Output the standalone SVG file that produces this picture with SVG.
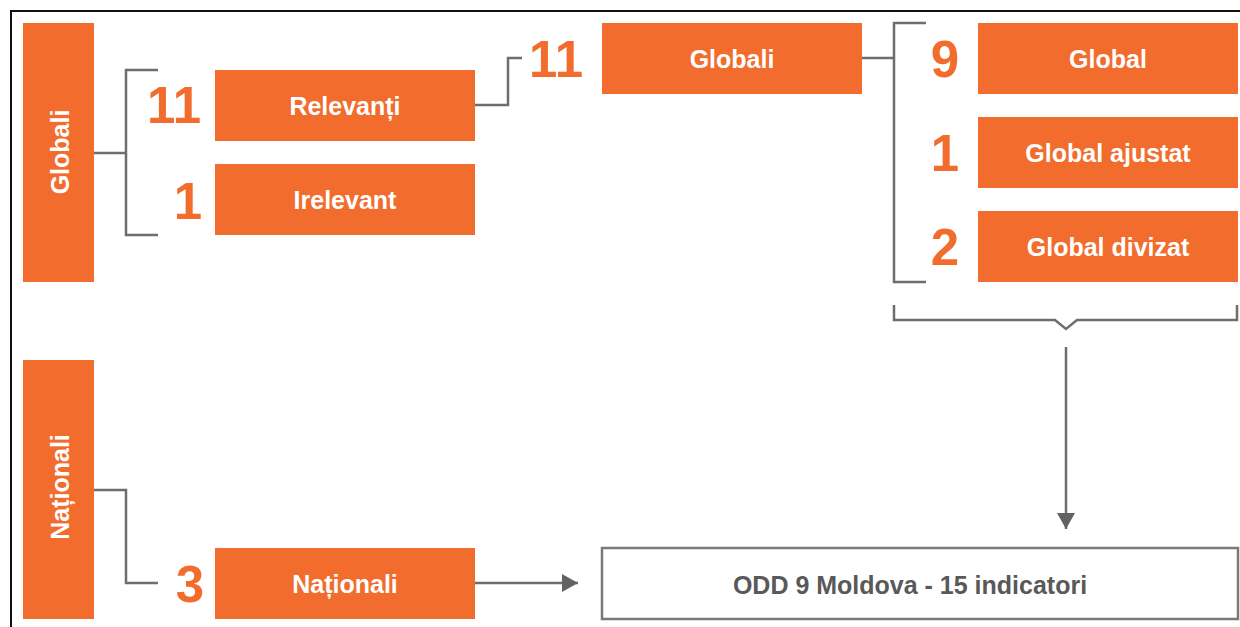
<svg xmlns="http://www.w3.org/2000/svg" width="1240" height="627" viewBox="0 0 1240 627">
<style>
.box{fill:#F26C2D;}
.lbl{font-family:"Liberation Sans",Arial,sans-serif;font-weight:bold;font-size:25px;fill:#FFFFFF;text-anchor:middle;}
.num{font-family:"Liberation Sans",Arial,sans-serif;font-weight:bold;font-size:51px;fill:#F26C2D;text-anchor:end;}
.ln{fill:none;stroke:#6E6E6E;stroke-width:2.5;}
.odd{fill:#FFFFFF;stroke:#7A7A7A;stroke-width:2.5;}
.oddt{font-family:"Liberation Sans",Arial,sans-serif;font-weight:bold;font-size:25px;fill:#595959;text-anchor:middle;}
</style>
<defs>
<marker id="arr" markerUnits="userSpaceOnUse" markerWidth="16" markerHeight="18" refX="16" refY="9" orient="auto">
<path d="M0,0 L16,9 L0,18 Z" fill="#626262"/>
</marker>
</defs>
<rect x="0" y="0" width="1240" height="627" fill="#FFFFFF"/>
<path d="M11,627 V11 H1240" fill="none" stroke="#111" stroke-width="2"/>

<g id="connectors">
<path class="ln" d="M94,153 H126"/>
<path class="ln" d="M158,70 H126 V235 H158"/>
<path class="ln" d="M475,105 H508 V58 H522"/>
<path class="ln" d="M862,58 H894"/>
<path class="ln" d="M926,23 H894 V282 H926"/>
<path class="ln" d="M894,305 V320 H1055 L1066,329 L1077,320 H1237 V305"/>
<path class="ln" d="M1066,347 V529" marker-end="url(#arr)"/>
<path class="ln" d="M94,490 H126 V583 H158"/>
<path class="ln" d="M475,583 H578" marker-end="url(#arr)"/>
</g>

<g id="globali-cat">
<rect class="box" x="23" y="23" width="71" height="259"/>
<text class="lbl" transform="translate(59,152) rotate(-90)" y="10">Globali</text>
</g>
<g id="nationali-cat">
<rect class="box" x="23" y="360" width="71" height="259"/>
<text class="lbl" transform="translate(59,487) rotate(-90)" y="10">Naționali</text>
</g>

<g id="relevanti">
<text class="num" x="201" y="123">11</text>
<rect class="box" x="215" y="70" width="260" height="71"/>
<text class="lbl" x="345" y="115">Relevanți</text>
</g>
<g id="irelevant">
<text class="num" x="202" y="219">1</text>
<rect class="box" x="215" y="164" width="260" height="71"/>
<text class="lbl" x="345" y="209">Irelevant</text>
</g>
<g id="globali-top">
<text class="num" x="583" y="77">11</text>
<rect class="box" x="602" y="23" width="260" height="71"/>
<text class="lbl" x="732" y="68">Globali</text>
</g>
<g id="global">
<text class="num" x="959" y="77">9</text>
<rect class="box" x="978" y="23" width="260" height="71"/>
<text class="lbl" x="1108" y="68">Global</text>
</g>
<g id="global-ajustat">
<text class="num" x="959" y="171">1</text>
<rect class="box" x="978" y="117" width="260" height="71"/>
<text class="lbl" x="1108" y="162">Global ajustat</text>
</g>
<g id="global-divizat">
<text class="num" x="959" y="265">2</text>
<rect class="box" x="978" y="211" width="260" height="71"/>
<text class="lbl" x="1108" y="256">Global divizat</text>
</g>
<g id="nationali">
<text class="num" x="204" y="602">3</text>
<rect class="box" x="215" y="548" width="260" height="71"/>
<text class="lbl" x="345" y="593">Naționali</text>
</g>
<g id="odd">
<rect class="odd" x="602" y="548" width="636" height="71"/>
<text class="oddt" x="910" y="594">ODD 9 Moldova - 15 indicatori</text>
</g>
</svg>
